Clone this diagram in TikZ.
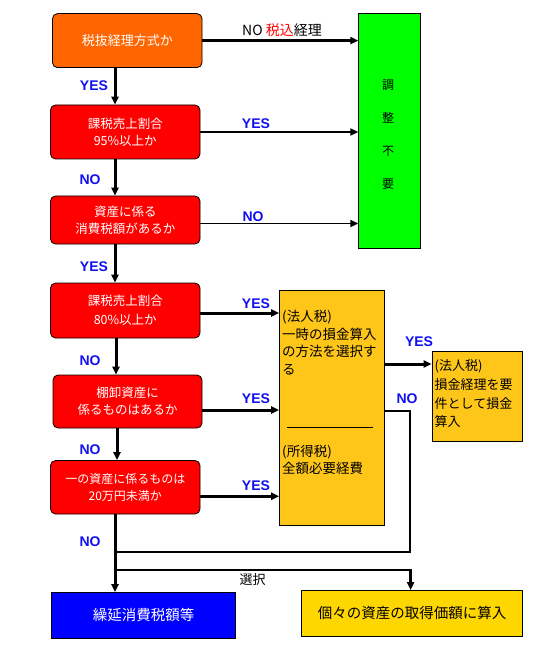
\documentclass[tikz,border=0pt]{standalone}
\usepackage{fontspec}
\setmainfont{Noto Sans CJK JP}
\newfontfamily\labfont{Liberation Sans}
\usetikzlibrary{arrows.meta}
\definecolor{orng}{HTML}{FF6600}
\definecolor{rd}{HTML}{FF0000}
\definecolor{grn}{HTML}{00FF00}
\definecolor{blu}{HTML}{0000FF}
\definecolor{ylw}{HTML}{FFC61A}
\definecolor{gold}{HTML}{FFD700}
\definecolor{labblue}{HTML}{1010F0}
\begin{document}
\begin{tikzpicture}[x=1pt,y=-1pt,
  base/.style={draw=black, line width=0.8pt, inner sep=0pt, align=center},
  rbox/.style={base, rounded corners=5pt, fill=rd, text=white,
    font=\fontsize{12.5}{17}\selectfont},
  ybox/.style={base, fill=ylw},
  ytext/.style={inner sep=0pt, align=left, anchor=north west,
    font=\fontsize{13.5}{17.5}\selectfont},
  lbl/.style={inner sep=0pt, text=labblue, font=\labfont\bfseries\fontsize{14}{14}\selectfont},
  arr/.style={line width=#1, -{Triangle[length=8pt,width=7pt]}},
  arr/.default=3pt,
  ln/.style={line width=2pt}
]
\useasboundingbox (0,0) rectangle (533,660);

% boxes
\node[rbox, fill=orng, minimum width=149.5pt, minimum height=54pt, font=\fontsize{13}{17}\selectfont] (b1) at (127.25,40.6) {税抜経理方式か};
\node[base, fill=grn, minimum width=61.3pt, minimum height=234.3pt] (G) at (389.4,130.9) {};
\node[inner sep=0pt, align=center, font=\fontsize{12}{33}\selectfont] (gt) at (388,135) {調\\整\\不\\要};
\node[rbox, minimum width=149.5pt, minimum height=54pt] (b2) at (125.25,132) {課税売上割合\\95\%以上か};
\node[rbox, minimum width=149.5pt, minimum height=48pt] (b3) at (125.25,220) {資産に係る\\消費税額があるか};
\node[rbox, minimum width=149.5pt, minimum height=55pt, font=\fontsize{12.5}{19}\selectfont] (b4) at (125.25,310.5) {課税売上割合\\80\%以上か};
\node[rbox, minimum width=149pt, minimum height=53pt] (b5) at (127.5,401.5) {棚卸資産に\\係るものはあるか};
\node[rbox, minimum width=149.5pt, minimum height=53.5pt, font=\fontsize{12}{17.5}\selectfont] (b6) at (125.25,487.25) {一の資産に係るものは\\20万円未満か};

\node[ybox, minimum width=104.5pt, minimum height=235pt] (Y) at (331.75,407.5) {};
\node[ytext] (yt1) at (282,310) {(法人税)\\一時の損金算入\\の方法を選択す\\る};
\draw[line width=0.8pt] (287,427.5) coordinate (s1) -- (373,427.5) coordinate (s2);
\node[ytext] (yt2) at (282,444.5) {(所得税)\\全額必要経費};

\node[ybox, minimum width=90.5pt, minimum height=90pt] (R) at (477.25,396) {};
\node[ytext, font=\fontsize{13}{18.7}\selectfont] (rt) at (434.5,359.5) {(法人税)\\損金経理を要\\件として損金\\算入};

\node[base, fill=blu, text=white, minimum width=184pt, minimum height=45.4pt, font=\fontsize{14.5}{17}\selectfont] (B) at (143.5,615.3) {繰延消費税額等};
\node[base, fill=gold, minimum width=220.8pt, minimum height=45.5pt, font=\fontsize{14.5}{17}\selectfont] (Z) at (412.1,613.25) {個々の資産の取得価額に算入};

% connectors
\coordinate (vx) at (115,0);
\draw[arr] (b1.south -| vx) -- (b2.north -| vx);
\draw[arr] (b2.south -| vx) -- (b3.north -| vx);
\draw[arr] (b3.south -| vx) -- (b4.north -| vx);
\draw[arr] ([xshift=1pt]b4.south -| vx) -- ([xshift=1pt]b5.north -| vx);
\draw[arr] ([xshift=2pt]b5.south -| vx) -- ([xshift=2pt]b6.north -| vx);
\draw[arr] (b6.south -| vx) -- (B.north -| vx);

\draw[arr=2.4pt] (b1.east) -- (b1.east -| G.west);
\draw[arr=1.7pt] (b2.east) -- (b2.east -| G.west);
\draw[arr=1.7pt] ([yshift=-3.5pt]b3.east) -- ([yshift=-3.5pt]b3.east -| G.west);
\draw[arr] ([yshift=-2.5pt]b4.east) -- ([yshift=-2.5pt]b4.east -| Y.west);
\draw[arr] ([yshift=-8.5pt]b5.east) -- ([yshift=-8.5pt]b5.east -| Y.west);
\draw[arr] ([yshift=-9pt]b6.east) -- ([yshift=-9pt]b6.east -| Y.west);
\draw[arr] ([yshift=43.5pt]Y.east) -- ([yshift=43.5pt]Y.east -| R.west);

\coordinate (nc) at (409.6,551.6);
\draw[ln] ([yshift=-3.5pt]Y.east) -| (nc) -- (nc -| vx);
\coordinate (br) at (115,569.7);
\draw[arr=2.3pt] (br) -| ([xshift=-1.5pt]Z.north);

% labels
\node[inner sep=0pt, font=\fontsize{14}{14}\selectfont] (l0) at (282,30) {NO \textcolor{rd}{税込}経理};
\node[lbl] (l1) at (94,86) {YES};
\node[lbl] (l2) at (256,124) {YES};
\node[lbl] (l3) at (90,180) {NO};
\node[lbl] (l4) at (253,217) {NO};
\node[lbl] (l5) at (94,267) {YES};
\node[lbl] (l6) at (256,304) {YES};
\node[lbl] (l7) at (90,361) {NO};
\node[lbl] (l8) at (256,399) {YES};
\node[lbl] (l9) at (419,342) {YES};
\node[lbl] (l10) at (407,398.5) {NO};
\node[lbl] (l11) at (90,450) {NO};
\node[lbl] (l12) at (256,486) {YES};
\node[lbl] (l13) at (90,542) {NO};
\node[inner sep=0pt, font=\fontsize{13}{13}\selectfont] (l14) at (252.5,580) {選択};
\end{tikzpicture}
\end{document}
